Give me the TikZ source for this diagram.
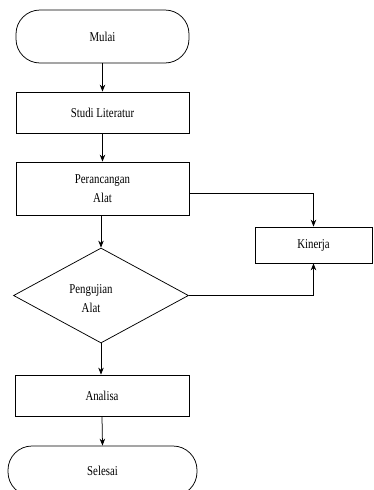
\documentclass[tikz,border=0pt]{standalone}
\usepackage{fontspec}
\setmainfont{Liberation Serif}[FakeStretch=0.8]
\usetikzlibrary{shapes.geometric,arrows.meta}
\begin{document}
\begin{tikzpicture}[x=1pt,y=1pt,
  every node/.style={font=\fontsize{13.5}{19}\selectfont, align=center},
  box/.style={draw, line width=0.75pt, minimum width=173pt, inner sep=0pt},
  term/.style={draw, line width=0.75pt, rounded corners=24pt, minimum width=173pt, minimum height=53pt, inner sep=0pt},
  dec/.style={draw, line width=0.75pt, shape=diamond, minimum width=175pt, minimum height=95pt, inner sep=0pt},
  arr/.style={line width=0.75pt, -{Stealth[length=7pt,width=5.5pt]}}]
\useasboundingbox (0,0) rectangle (373,-490);
\begin{scope}
\clip (0,0) rectangle (373,-490);
\node[term] (mulai) at (102.5,-36.5) {Mulai};
\node[box, minimum height=41pt] (studi) at (102.5,-112.5) {Studi Literatur};
\node[box, minimum height=53pt] (peran) at (102.5,-188.5) {Perancangan\\Alat};
\node[box, minimum width=117pt, minimum height=36pt] (kin) at (313.5,-245) {Kinerja};
\node[dec] (uji) at (101,-295.5) {};
\node (ujitext) at (91,-299) {Pengujian\\Alat};
\node[box, minimum width=174pt, minimum height=41pt] (ana) at (102,-395.5) {Analisa};
\node[term, minimum width=189pt, minimum height=50pt] (sel) at (102.5,-471) {Selesai};
\draw[arr] (mulai.south) -- (studi.north);
\draw[arr] (studi.south) -- (peran.north);
\draw[arr] ([yshift=-4.5pt]peran.east) -| (kin.north);
\draw[arr] (peran.south -| uji.north) -- (uji.north);
\draw[arr] (uji.east) -| (kin.south);
\draw[arr] (uji.south) -- (ana.north -| uji.south);
\draw[arr] (ana.south) -- (sel.north);
\end{scope}
\end{tikzpicture}
\end{document}
